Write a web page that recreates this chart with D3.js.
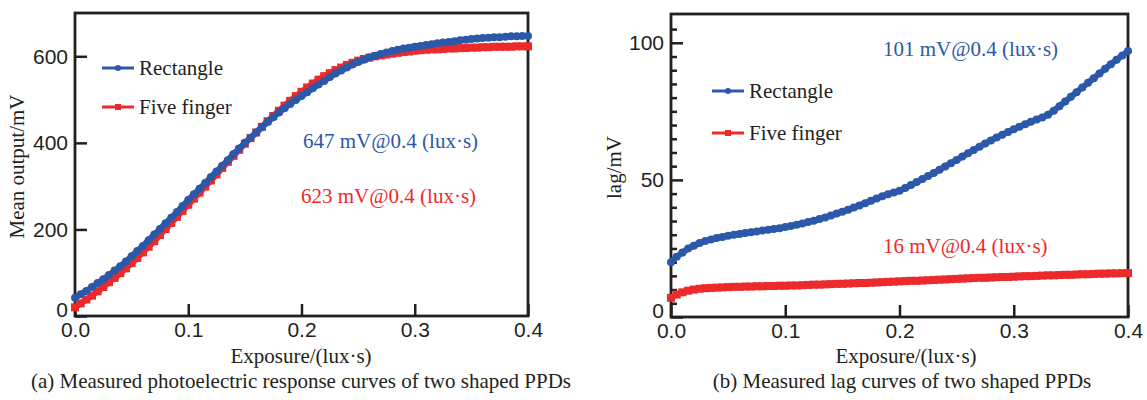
<!DOCTYPE html>
<html>
<head>
<meta charset="utf-8">
<script src="https://cdn.jsdelivr.net/npm/d3@7"></script>
<style>
  body { margin: 0; background: #fff; }
  svg { display: block; font-family: "Liberation Serif", "Times New Roman", serif; }
  .tick text { font-size: 21px; fill: #231f20; }
</style>
</head>
<body>
<div id="chart"></div>
<script>
// exposure grid (lux·s), shared by all series
var exposure = [0,0.005,0.01,0.015,0.02,0.025,0.03,0.035,0.04,0.045,0.05,0.055,0.06,0.065,0.07,0.075,0.08,0.085,0.09,0.095,
  0.1,0.105,0.11,0.115,0.12,0.125,0.13,0.135,0.14,0.145,0.15,0.155,0.16,0.165,0.17,0.175,0.18,0.185,0.19,0.195,
  0.2,0.205,0.21,0.215,0.22,0.225,0.23,0.235,0.24,0.245,0.25,0.255,0.26,0.265,0.27,0.275,0.28,0.285,0.29,0.295,
  0.3,0.305,0.31,0.315,0.32,0.325,0.33,0.335,0.34,0.345,0.35,0.355,0.36,0.365,0.37,0.375,0.38,0.385,0.39,0.395,0.4];

// (a) mean output, mV
var outputRect = [42,50,58,67,76,85,95,105,115,126,138,150,162,175,188,201,214,227,240,254,
  268,281,294,307,321,334,347,360,374,387,400,412,424,436,448,459,470,480,490,499,
  508,517,526,535,543,552,560,567,574,581,587,592,597,601,605,609,612,615,618,620,
  622,624,626,628,630,632,633,635,637,638,640,641,642,643,644,644,645,646,646,647,647];
var outputFive = [20,29,38,47,57,67,78,88,99,110,122,134,147,160,173,187,201,215,229,243,
  257,271,285,299,313,327,342,356,370,384,398,411,424,437,450,462,474,486,497,508,
  518,528,537,546,554,561,568,574,580,585,590,594,597,600,602,604,606,608,610,611,
  613,614,615,616,616,617,618,618,619,619,620,620,621,621,622,622,622,622,623,623,623];

// (b) lag, mV
var lagRect = [20,22,23.5,25,26,27,27.7,28.3,28.8,29.2,29.6,30,30.3,30.6,30.9,31.2,31.5,31.8,32.1,32.4,
  32.8,33.2,33.6,34.1,34.6,35.1,35.7,36.3,37,37.7,38.4,39.1,39.9,40.7,41.5,42.4,43.2,44,44.8,45.4,
  46,47,48.1,49.2,50.3,51.4,52.5,53.7,54.9,56.1,57.3,58.5,59.7,60.9,62.1,63.3,64.4,65.5,66.5,67.5,
  68.5,69.4,70.3,71.2,72,72.8,73.8,75.2,76.9,78.6,80.3,82,83.7,85.4,87.1,88.8,90.5,92.2,93.8,95.4,97];
var lagFive = [7,8.2,9,9.6,10,10.3,10.5,10.6,10.7,10.8,10.9,11,11,11.1,11.1,11.2,11.2,11.3,11.3,11.4,
  11.4,11.5,11.5,11.6,11.7,11.8,11.8,11.9,12,12.1,12.1,12.2,12.3,12.4,12.4,12.5,12.6,12.7,12.8,12.9,
  13,13.1,13.2,13.2,13.3,13.4,13.5,13.6,13.7,13.8,13.9,14,14.1,14.2,14.3,14.3,14.4,14.5,14.6,14.6,
  14.7,14.8,14.9,14.9,15,15.1,15.2,15.2,15.3,15.4,15.4,15.5,15.6,15.6,15.7,15.8,15.8,15.9,15.9,16,16];

var xTicks = [0, 0.1, 0.2, 0.3, 0.4];
var seriesNames = ["Rectangle", "Five finger"];
var blue = "#2b58a8", red = "#ec2a2c", ink = "#231f20";

var svg = d3.select("#chart").append("svg")
    .attr("width", 1147)
    .attr("height", 400);

function drawPanel(p) {
    var x = d3.scaleLinear().domain([0, 0.4]).range([p.left, p.right]);
    var y = d3.scaleLinear().domain([0, p.ymax]).range([p.bottom, p.top]);
    var g = svg.append("g");

    //minor ticks first (no labels)
    if (p.minor) {
        g.append("g")
            .attr("transform", "translate(" + p.left + ",0)")
            .call(d3.axisLeft(y).tickValues(p.minor).tickSize(-6).tickFormat(""))
            .call(function(a) { a.select(".domain").remove(); })
            .selectAll("line").attr("stroke", ink).attr("stroke-width", 2.5);
    }

    g.append("g")
        .attr("transform", "translate(0," + p.bottom + ")")
        .call(d3.axisBottom(x).tickValues(xTicks).tickSize(-12).tickPadding(6).tickFormat(d3.format(".1f")))
        .call(function(a) { a.select(".domain").remove(); })
        .selectAll("line").attr("stroke", ink).attr("stroke-width", 2.5);

    var ya = g.append("g")
        .attr("transform", "translate(" + p.left + ",0)")
        .call(d3.axisLeft(y).tickValues(p.yTicks).tickSize(-12).tickPadding(7))
        .call(function(a) { a.select(".domain").remove(); });
    ya.selectAll("line").attr("stroke", ink).attr("stroke-width", 2.5);
    // the zero label sits a touch higher so it clears "0.0"
    ya.selectAll(".tick text").filter(function(d) { return d == 0; }).attr("dy", p.zeroDy);

    g.selectAll(".tick text").attr("fill", ink);

    g.append("rect")
        .attr("x", p.left).attr("y", p.top)
        .attr("width", p.right - p.left).attr("height", p.bottom - p.top)
        .attr("fill", "none").attr("stroke", ink).attr("stroke-width", 2.8);

    var line = d3.line()
        .x(function(d, i) { return x(exposure[i]); })
        .y(function(d) { return y(d); });

    var series = [
        {values: p.s1, color: blue, shape: "circle"},
        {values: p.s2, color: red, shape: "square"}
    ];
    // red drawn first so blue sits on top
    [series[1], series[0]].forEach(function(s) {
        g.append("path")
            .datum(s.values)
            .attr("d", line)
            .attr("fill", "none")
            .attr("stroke", s.color)
            .attr("stroke-width", 6)
            .attr("stroke-linejoin", "round");
        if (s.shape == "circle") {
            g.selectAll(null).data(s.values).enter().append("circle")
                .attr("cx", function(d, i) { return x(exposure[i]); })
                .attr("cy", function(d) { return y(d); })
                .attr("r", 4)
                .attr("fill", s.color);
        } else {
            g.selectAll(null).data(s.values).enter().append("rect")
                .attr("x", function(d, i) { return x(exposure[i]) - 4; })
                .attr("y", function(d) { return y(d) - 4; })
                .attr("width", 8).attr("height", 8)
                .attr("fill", s.color);
        }
    });

    // legend
    seriesNames.forEach(function(name, i) {
        var ly = p.legY[i], col = i == 0 ? blue : red;
        g.append("line")
            .attr("x1", p.legX).attr("x2", p.legX + 32)
            .attr("y1", ly).attr("y2", ly)
            .attr("stroke", col).attr("stroke-width", 3);
        if (i == 0) {
            g.append("circle").attr("cx", p.legX + 16).attr("cy", ly).attr("r", 3).attr("fill", col);
        } else {
            g.append("rect").attr("x", p.legX + 13).attr("y", ly - 3).attr("width", 6).attr("height", 6).attr("fill", col);
        }
        g.append("text")
            .attr("x", p.legX + 37).attr("y", ly + 7)
            .attr("font-size", 21).attr("fill", ink)
            .text(name);
    });

    // value notes
    p.notes.forEach(function(n, i) {
        g.append("text")
            .attr("x", n[0]).attr("y", n[1])
            .attr("font-size", 21)
            .attr("fill", i == 0 ? blue : red)
            .text(n[2]);
    });

    g.append("text")
        .attr("transform", "translate(" + p.yTitleX + "," + ((p.top + p.bottom) / 2 + 2) + ") rotate(-90)")
        .attr("text-anchor", "middle")
        .attr("font-size", 21).attr("fill", ink)
        .text(p.yTitle);

    g.append("text")
        .attr("x", p.xTitleX).attr("y", 363)
        .attr("text-anchor", "middle")
        .attr("font-size", 21).attr("fill", ink)
        .text("Exposure/(lux·s)");

    g.append("text")
        .attr("x", p.capX).attr("y", 388)
        .attr("text-anchor", "middle")
        .attr("font-size", 21).attr("fill", ink)
        .text(p.caption);
}

drawPanel({
    left: 75, right: 528, top: 13, bottom: 316, ymax: 700,
    yTicks: [0, 200, 400, 600], zeroDy: "0em",
    s1: outputRect, s2: outputFive,
    legX: 102, legY: [68, 107],
    notes: [[303, 148, "647 mV@0.4 (lux·s)"], [301, 203, "623 mV@0.4 (lux·s)"]],
    yTitle: "Mean output/mV", yTitleX: 24,
    xTitleX: 301, capX: 301,
    caption: "(a) Measured photoelectric response curves of two shaped PPDs"
});

drawPanel({
    left: 671, right: 1128, top: 14, bottom: 317, ymax: 110.5,
    yTicks: [0, 50, 100], zeroDy: "0em",
    minor: [5,10,15,20,25,30,35,40,45,55,60,65,70,75,80,85,90,95,105],
    s1: lagRect, s2: lagFive,
    legX: 712, legY: [91, 133],
    notes: [[883, 56, "101 mV@0.4 (lux·s)"], [883, 253, "16 mV@0.4 (lux·s)"]],
    yTitle: "lag/mV", yTitleX: 621,
    xTitleX: 906, capX: 902,
    caption: "(b) Measured lag curves of two shaped PPDs"
});
</script>
</body>
</html>
